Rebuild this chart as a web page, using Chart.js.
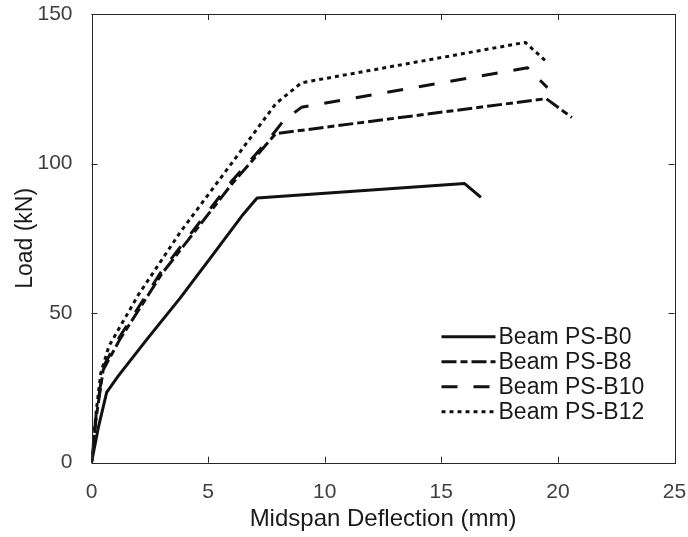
<!DOCTYPE html>
<html>
<head>
<meta charset="utf-8">
<script src="https://cdn.jsdelivr.net/npm/chart.js@4"></script>
<style>
  html, body { margin: 0; padding: 0; background: #fff; }
  #wrap { width: 688px; height: 537px; }
</style>
</head>
<body>
<div id="wrap"><canvas id="myChart"></canvas></div>
<script>
// Load-deflection data
var b0X = [0, 0.3, 0.65, 1.15, 2.4, 3.8, 5.2, 6.5, 7.1, 16.0, 16.7];
var b0Y = [0, 12, 23.5, 29, 41.5, 55, 69.5, 83, 88.5, 93.3, 88.7];

var b8X = [0, 0.2, 0.5, 1.2, 3.0, 6.0, 7.9, 19.5, 20.6];
var b8Y = [0, 15, 31, 41, 63, 93, 110, 121.7, 115.4];

var b10X = [0, 0.2, 0.5, 1.2, 3.0, 6.0, 7.6, 8.2, 9.0, 18.7, 19.55];
var b10Y = [0, 16, 32, 42, 64, 94, 108, 114, 118.8, 132, 125.4];

var b12X = [0, 0.2, 0.4, 0.75, 2.0, 3.8, 6.0, 7.9, 9.0, 18.6, 19.55];
var b12Y = [0, 17, 30, 39, 56, 77, 100, 120, 127, 140.5, 133.8];

var seriesNames = ['Beam PS-B0', 'Beam PS-B8', 'Beam PS-B10', 'Beam PS-B12'];
var xTicks = [0, 5, 10, 15, 20, 25];
var yTicks = [0, 50, 100, 150];

function pts(xs, ys) {
  return xs.map(function (x, i) { return { x: x, y: ys[i] }; });
}

var dashes = [[], [15, 4, 7, 4], [16, 16], [4, 4]];
var allX = [b0X, b8X, b10X, b12X];
var allY = [b0Y, b8Y, b10Y, b12Y];

var datasets = seriesNames.map(function (name, i) {
  return {
    label: name,
    data: pts(allX[i], allY[i]),
    borderColor: '#111',
    borderWidth: 3,
    borderDash: dashes[i],
    borderCapStyle: 'butt',
    borderJoinStyle: 'round',
    pointRadius: 0,
    tension: 0,
    fill: false
  };
});

// box + inward ticks, matlab style
var boxPlugin = {
  id: 'box',
  afterDatasetsDraw: function (chart) {
    var c = chart.ctx, a = chart.chartArea;
    var xs = chart.scales.x, ys = chart.scales.y;
    var L = 6;
    c.save();
    c.strokeStyle = '#262626';
    c.lineWidth = 1;
    c.beginPath();
    xTicks.forEach(function (t) {
      var px = Math.round(xs.getPixelForValue(t)) + 0.5;
      c.moveTo(px, a.bottom); c.lineTo(px, a.bottom - L);
      c.moveTo(px, a.top); c.lineTo(px, a.top + L);
    });
    yTicks.forEach(function (t) {
      var py = Math.round(ys.getPixelForValue(t)) + 0.5;
      c.moveTo(a.left, py); c.lineTo(a.left + L, py);
      c.moveTo(a.right, py); c.lineTo(a.right - L, py);
    });
    c.stroke();
    c.strokeRect(Math.round(a.left) + 0.5, Math.round(a.top) + 0.5,
                 Math.round(a.right - a.left), Math.round(a.bottom - a.top));
    c.restore();
  }
};

// legend drawn inside the plot, bottom right
var legendPlugin = {
  id: 'insideLegend',
  afterDatasetsDraw: function (chart) {
    var c = chart.ctx, a = chart.chartArea;
    var x0 = a.right - 233, x1 = a.right - 179, tx = a.right - 176;
    var y0 = a.bottom - 126, step = 25;
    c.save();
    c.font = '23px "Liberation Sans", Arial, sans-serif';
    c.textBaseline = 'middle';
    c.fillStyle = '#1a1a1a';
    chart.data.datasets.forEach(function (ds, i) {
      var y = y0 + i * step;
      c.beginPath();
      c.strokeStyle = ds.borderColor;
      c.lineWidth = ds.borderWidth;
      c.lineCap = 'butt';
      c.setLineDash(ds.borderDash);
      c.moveTo(x0, y); c.lineTo(x1, y);
      c.stroke();
      c.setLineDash([]);
      c.fillText(ds.label, tx, y + 1);
    });
    c.restore();
  }
};

Chart.defaults.font.family = '"Liberation Sans", Arial, sans-serif';

var ctx = document.getElementById('myChart').getContext('2d');
var myChart = new Chart(ctx, {
  type: 'line',
  data: { datasets: datasets },
  options: {
    responsive: true,
    maintainAspectRatio: false,
    animation: false,
    layout: { padding: { left: 0, right: 13.5, top: 14, bottom: 0 } },
    plugins: {
      legend: { display: false },
      tooltip: { enabled: false }
    },
    scales: {
      x: {
        type: 'linear',
        min: 0, max: 25,
        afterBuildTicks: function (s) { s.ticks = xTicks.map(function (v) { return { value: v }; }); },
        afterFit: function (s) { s.height = 74.3; s.paddingLeft = 0; s.paddingRight = 0; },
        grid: { display: false },
        border: { display: false },
        ticks: { color: '#404040', font: { size: 21 }, padding: 9, maxRotation: 0 },
        title: {
          display: true,
          text: 'Midspan Deflection (mm)',
          color: '#1a1a1a',
          font: { size: 24 },
          padding: { top: 0, bottom: 3 }
        }
      },
      y: {
        type: 'linear',
        min: 0, max: 150,
        afterBuildTicks: function (s) { s.ticks = yTicks.map(function (v) { return { value: v }; }); },
        afterFit: function (s) { s.width = 91.5; s.paddingTop = 0; s.paddingBottom = 0; },
        grid: { display: false },
        border: { display: false },
        ticks: { color: '#404040', font: { size: 21 }, padding: 11 },
        title: {
          display: true,
          text: 'Load (kN)',
          color: '#1a1a1a',
          font: { size: 23 },
          padding: { top: 12, bottom: 0 }
        }
      }
    }
  },
  plugins: [boxPlugin, legendPlugin]
});
</script>
</body>
</html>
